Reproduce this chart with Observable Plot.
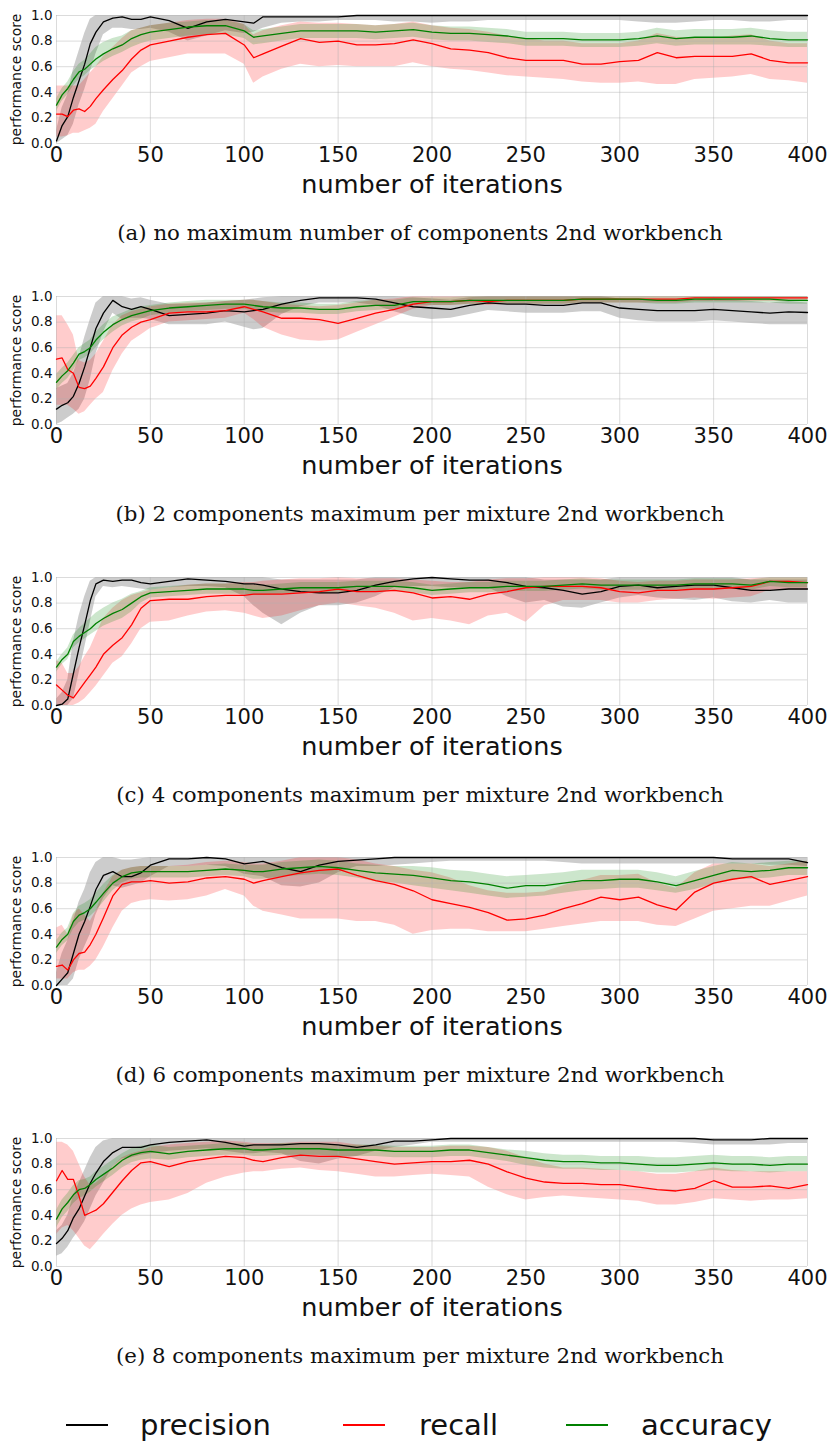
<!DOCTYPE html>
<html><head><meta charset="utf-8">
<script src="https://cdn.jsdelivr.net/npm/d3@7"></script>
<script src="https://cdn.jsdelivr.net/npm/@observablehq/plot@0.6"></script>
<style>
html,body{margin:0;padding:0;background:#fff}
body{width:832px;height:1445px;position:relative;overflow:hidden;font-family:"DejaVu Sans",sans-serif;color:#111}
.panel{position:absolute;left:0;width:832px;height:281px}
.panel svg{position:absolute;left:0;top:0}
.caption{position:absolute;left:4px;width:832px;top:219px;text-align:center;font-family:"DejaVu Serif",serif;font-size:21.3px;line-height:28px;white-space:nowrap}
.lg-line{position:absolute;height:2px;top:1424px}
.lg-text{position:absolute;top:1405px;font-size:29px;line-height:40px;font-family:"DejaVu Sans",sans-serif}
</style></head>
<body>
<div id="root"></div>
<script>
// iteration grid (x values)
const X = [0,3,6,9,12,15,18,21,25,30, 35,40,45,50,60,70,80,90,100,105, 110,120,130,140,150,160,170,180,190,200, 210,220,230,240,250,260,270,280,290,300, 310,320,330,340,350,360,370,380,390,400];
const xTicks = [0,50,100,150,200,250,300,350,400];
const yTicks = [0,0.2,0.4,0.6,0.8,1.0];
const captions = [
  "(a) no maximum number of components 2nd workbench",
  "(b) 2 components maximum per mixture 2nd workbench",
  "(c) 4 components maximum per mixture 2nd workbench",
  "(d) 6 components maximum per mixture 2nd workbench",
  "(e) 8 components maximum per mixture 2nd workbench"
];
const seriesNames = ["precision","recall","accuracy"];

// ---- panel (a)
const precA   = [0.02,0.14,0.21,0.36,0.49,0.62,0.78,0.87,0.95,0.98, 0.99,0.97,0.97,0.99,0.96,0.90,0.95,0.97,0.95,0.94, 0.99,0.99,0.99,0.99,0.99,1,1,1,1,1, 1,1,1,1,1,1,1,1,1,1, 1,1,1,1,1,1,1,1,1,1];
const precALo = [0,0.03,0.06,0.15,0.30,0.42,0.56,0.70,0.85,0.90, 0.90,0.89,0.89,0.90,0.87,0.80,0.84,0.88,0.86,0.87, 0.90,0.94,0.95,0.95,0.96,0.96,0.96,0.95,0.95,0.94, 0.95,0.95,0.96,0.96,0.96,0.96,0.96,0.96,0.96,0.96, 0.95,0.94,0.94,0.95,0.96,0.96,0.95,0.95,0.96,0.96];
const precAHi = [0.10,0.28,0.38,0.58,0.72,0.86,0.97,1,1,1, 1,1,1,1,1,1,1,1,1,1, 1,1,1,1,1,1,1,1,1,1, 1,1,1,1,1,1,1,1,1,1, 1,1,1,1,1,1,1,1,1,1];
const recA    = [0.23,0.23,0.21,0.26,0.27,0.25,0.29,0.35,0.42,0.50, 0.57,0.66,0.73,0.77,0.80,0.83,0.85,0.86,0.77,0.67, 0.70,0.76,0.82,0.79,0.80,0.77,0.77,0.78,0.81,0.78, 0.74,0.73,0.71,0.67,0.65,0.65,0.65,0.62,0.62,0.64, 0.65,0.71,0.67,0.68,0.68,0.68,0.70,0.65,0.63,0.63];
const recALo  = [0.05,0.05,0.06,0.08,0.08,0.10,0.12,0.15,0.25,0.35, 0.45,0.55,0.60,0.64,0.67,0.70,0.70,0.70,0.62,0.47, 0.52,0.58,0.62,0.60,0.61,0.60,0.60,0.60,0.63,0.60, 0.58,0.57,0.55,0.53,0.52,0.51,0.50,0.48,0.47,0.47, 0.48,0.46,0.46,0.50,0.51,0.52,0.54,0.50,0.49,0.47];
const recAHi  = [0.45,0.45,0.45,0.45,0.45,0.50,0.55,0.60,0.68,0.75, 0.82,0.88,0.90,0.92,0.94,0.96,0.97,0.97,0.93,0.85, 0.88,0.92,0.95,0.94,0.94,0.93,0.92,0.93,0.95,0.92, 0.90,0.89,0.87,0.84,0.82,0.80,0.80,0.78,0.78,0.78, 0.80,0.86,0.83,0.82,0.82,0.84,0.85,0.80,0.78,0.78];
const accA    = [0.30,0.38,0.43,0.50,0.56,0.58,0.62,0.66,0.70,0.74, 0.77,0.82,0.85,0.87,0.89,0.91,0.92,0.92,0.88,0.83, 0.84,0.86,0.88,0.88,0.88,0.88,0.87,0.88,0.89,0.87, 0.86,0.86,0.85,0.84,0.82,0.82,0.82,0.81,0.81,0.81, 0.82,0.84,0.82,0.83,0.83,0.83,0.84,0.82,0.81,0.81];
const accALo  = [0.25,0.33,0.38,0.45,0.50,0.53,0.57,0.60,0.64,0.68, 0.71,0.75,0.78,0.80,0.82,0.84,0.85,0.85,0.82,0.77, 0.78,0.80,0.82,0.82,0.82,0.82,0.81,0.82,0.83,0.81, 0.80,0.80,0.79,0.78,0.76,0.76,0.76,0.75,0.75,0.75, 0.76,0.78,0.76,0.77,0.77,0.77,0.77,0.76,0.75,0.75];
const accAHi  = [0.35,0.43,0.48,0.56,0.62,0.65,0.70,0.75,0.79,0.82, 0.84,0.88,0.90,0.92,0.94,0.95,0.96,0.96,0.93,0.88, 0.89,0.91,0.93,0.93,0.93,0.93,0.92,0.93,0.94,0.92, 0.91,0.91,0.90,0.89,0.87,0.87,0.87,0.86,0.86,0.86, 0.87,0.90,0.88,0.89,0.89,0.89,0.90,0.88,0.87,0.87];

// ---- panel (b)
const precB   = [0.12,0.15,0.17,0.22,0.32,0.45,0.60,0.75,0.87,0.97, 0.92,0.90,0.92,0.90,0.85,0.86,0.87,0.89,0.88,0.89, 0.90,0.94,0.97,0.99,0.99,0.99,0.98,0.95,0.92,0.91, 0.90,0.93,0.95,0.94,0.94,0.93,0.93,0.95,0.95,0.91, 0.90,0.89,0.89,0.89,0.90,0.89,0.88,0.87,0.88,0.875];
const precBLo = [0,0.02,0.05,0.08,0.12,0.20,0.35,0.55,0.72,0.87, 0.82,0.83,0.83,0.82,0.78,0.78,0.78,0.80,0.76,0.74, 0.75,0.86,0.92,0.95,0.95,0.95,0.93,0.88,0.84,0.82, 0.83,0.86,0.89,0.88,0.87,0.87,0.87,0.88,0.88,0.83, 0.81,0.80,0.80,0.80,0.81,0.80,0.79,0.78,0.78,0.78];
const precBHi = [0.28,0.30,0.32,0.40,0.52,0.68,0.82,0.95,1,1, 1,0.98,0.99,0.97,0.94,0.94,0.95,0.96,0.97,0.98, 0.99,1,1,1,1,1,1,1,0.99,0.98, 0.97,0.99,1,1,1,1,1,1,1,0.98, 0.97,0.97,0.97,0.97,0.98,0.97,0.96,0.95,0.96,0.95];
const recB    = [0.51,0.52,0.43,0.40,0.29,0.28,0.30,0.36,0.45,0.60, 0.70,0.76,0.80,0.82,0.87,0.88,0.88,0.89,0.92,0.90, 0.88,0.83,0.83,0.82,0.79,0.83,0.87,0.90,0.94,0.96, 0.96,0.97,0.96,0.97,0.97,0.97,0.97,0.98,0.98,0.98, 0.98,0.98,0.98,0.99,0.99,0.99,0.99,0.99,0.99,0.99];
const recBLo  = [0.15,0.15,0.15,0.12,0.08,0.10,0.15,0.20,0.25,0.42, 0.55,0.65,0.70,0.75,0.80,0.81,0.82,0.83,0.87,0.82, 0.76,0.70,0.66,0.65,0.66,0.72,0.78,0.84,0.90,0.93, 0.93,0.94,0.93,0.94,0.94,0.94,0.94,0.95,0.95,0.95, 0.95,0.95,0.95,0.96,0.96,0.96,0.96,0.96,0.96,0.96];
const recBHi  = [0.85,0.85,0.78,0.70,0.50,0.48,0.50,0.55,0.65,0.78, 0.85,0.88,0.90,0.92,0.94,0.95,0.95,0.96,0.97,0.97, 0.96,0.94,0.93,0.92,0.93,0.95,0.97,0.98,1,1, 1,1,1,1,1,1,1,1,1,1, 1,1,1,1,1,1,1,1,1,1];
const accB    = [0.33,0.38,0.42,0.48,0.55,0.57,0.60,0.66,0.72,0.78, 0.82,0.85,0.87,0.89,0.91,0.92,0.93,0.94,0.94,0.93, 0.92,0.91,0.91,0.90,0.90,0.92,0.93,0.93,0.96,0.96, 0.96,0.97,0.97,0.97,0.97,0.97,0.97,0.98,0.98,0.98, 0.98,0.97,0.97,0.98,0.98,0.98,0.98,0.98,0.97,0.97];
const accBLo  = [0.27,0.32,0.36,0.42,0.50,0.52,0.55,0.60,0.66,0.72, 0.77,0.80,0.82,0.85,0.87,0.88,0.89,0.90,0.90,0.89, 0.88,0.87,0.87,0.86,0.86,0.88,0.89,0.90,0.93,0.93, 0.93,0.94,0.94,0.94,0.94,0.94,0.94,0.95,0.95,0.95, 0.95,0.94,0.94,0.95,0.95,0.95,0.95,0.95,0.94,0.94];
const accBHi  = [0.39,0.44,0.48,0.54,0.60,0.63,0.66,0.72,0.78,0.84, 0.87,0.90,0.92,0.93,0.95,0.96,0.97,0.97,0.97,0.97, 0.96,0.95,0.95,0.94,0.94,0.96,0.97,0.97,0.99,0.99, 0.99,1,1,1,1,1,1,1,1,1, 1,1,1,1,1,1,1,1,1,1];

// ---- panel (c)
const precC   = [0,0.01,0.05,0.25,0.45,0.63,0.82,0.95,0.98,0.97, 0.98,0.98,0.96,0.95,0.97,0.99,0.98,0.97,0.95,0.95, 0.94,0.91,0.89,0.88,0.88,0.90,0.94,0.97,0.99,1, 0.99,0.98,0.98,0.96,0.93,0.92,0.90,0.87,0.89,0.93, 0.94,0.92,0.93,0.94,0.94,0.92,0.90,0.90,0.91,0.91];
const precCLo = [0,0,0,0.05,0.25,0.45,0.65,0.85,0.93,0.92, 0.93,0.92,0.91,0.90,0.92,0.93,0.93,0.92,0.85,0.78, 0.72,0.63,0.72,0.78,0.78,0.80,0.85,0.92,0.93,0.93, 0.92,0.92,0.92,0.85,0.80,0.82,0.77,0.76,0.80,0.84, 0.86,0.84,0.83,0.82,0.84,0.81,0.80,0.82,0.80,0.80];
const precCHi = [0.05,0.10,0.20,0.50,0.70,0.85,0.97,1,1,1, 1,1,1,1,1,1,1,1,1,1, 1,0.98,0.98,0.98,0.98,0.98,1,1,1,1, 1,1,1,1,1,0.98,0.98,0.98,0.98,1, 1,1,1,1,1,1,0.98,0.98,0.98,0.98];
const recC    = [0.16,0.12,0.08,0.06,0.12,0.18,0.24,0.30,0.40,0.47, 0.53,0.63,0.76,0.82,0.83,0.83,0.85,0.86,0.86,0.87, 0.87,0.87,0.88,0.89,0.91,0.89,0.89,0.90,0.88,0.84, 0.85,0.83,0.87,0.89,0.92,0.93,0.93,0.93,0.92,0.89, 0.88,0.90,0.90,0.91,0.91,0.92,0.93,0.97,0.97,0.96];
const recCLo  = [0,0,0,0,0.02,0.05,0.10,0.15,0.23,0.33, 0.38,0.48,0.60,0.65,0.66,0.70,0.73,0.74,0.72,0.70, 0.68,0.70,0.74,0.78,0.80,0.78,0.76,0.72,0.66,0.68, 0.66,0.63,0.70,0.72,0.65,0.78,0.82,0.82,0.82,0.80, 0.80,0.82,0.83,0.84,0.83,0.84,0.85,0.90,0.90,0.90];
const recCHi  = [0.35,0.33,0.25,0.25,0.30,0.38,0.45,0.55,0.68,0.76, 0.82,0.86,0.88,0.90,0.92,0.94,0.95,0.95,0.96,0.96, 0.97,0.98,0.99,0.99,1,0.99,0.99,0.99,0.98,0.97, 0.96,0.96,0.98,0.99,0.99,1,1,1,0.99,0.97, 0.96,0.97,0.97,0.98,0.98,0.98,0.99,1,1,1];
const accC    = [0.30,0.36,0.40,0.50,0.54,0.57,0.60,0.64,0.68,0.72, 0.75,0.80,0.85,0.88,0.89,0.90,0.91,0.91,0.91,0.90, 0.90,0.91,0.92,0.92,0.92,0.93,0.93,0.93,0.92,0.90, 0.91,0.92,0.92,0.93,0.93,0.93,0.94,0.95,0.94,0.94, 0.94,0.94,0.94,0.95,0.95,0.95,0.94,0.97,0.96,0.96];
const accCLo  = [0.26,0.32,0.36,0.45,0.49,0.52,0.55,0.58,0.62,0.65, 0.68,0.73,0.80,0.84,0.85,0.86,0.87,0.87,0.87,0.86, 0.86,0.87,0.88,0.88,0.88,0.89,0.89,0.89,0.88,0.86, 0.87,0.88,0.88,0.89,0.89,0.89,0.90,0.91,0.90,0.90, 0.90,0.90,0.90,0.91,0.91,0.91,0.90,0.93,0.92,0.92];
const accCHi  = [0.34,0.40,0.45,0.55,0.60,0.64,0.68,0.72,0.76,0.80, 0.83,0.87,0.89,0.92,0.93,0.94,0.95,0.95,0.95,0.94, 0.94,0.95,0.96,0.96,0.96,0.97,0.97,0.97,0.96,0.94, 0.95,0.96,0.96,0.97,0.97,0.97,0.98,0.99,0.98,0.98, 0.98,0.98,0.98,0.99,0.99,0.99,0.98,1,1,1];

// ---- panel (d)
const precD   = [0,0.05,0.10,0.25,0.40,0.50,0.62,0.75,0.86,0.89, 0.85,0.85,0.88,0.94,0.99,0.99,1,0.99,0.95,0.96, 0.97,0.92,0.89,0.94,0.97,0.98,0.99,1,1,1, 1,1,1,1,1,1,1,1,1,1, 1,1,1,1,1,0.99,0.99,0.99,0.99,0.96];
const precDLo = [0,0,0,0.05,0.20,0.30,0.40,0.55,0.68,0.78, 0.76,0.78,0.80,0.85,0.93,0.93,0.94,0.93,0.87,0.86, 0.85,0.78,0.77,0.80,0.88,0.93,0.93,0.94,0.95,0.96, 0.97,0.97,0.97,0.97,0.97,0.97,0.96,0.95,0.95,0.95, 0.95,0.95,0.95,0.95,0.95,0.95,0.95,0.94,0.94,0.93];
const precDHi = [0.10,0.25,0.35,0.50,0.65,0.75,0.88,0.96,1,1, 0.98,0.98,0.99,1,1,1,1,1,1,1, 1,1,1,1,1,1,1,1,1,1, 1,1,1,1,1,1,1,1,1,1, 1,1,1,1,1,1,1,1,1,1];
const recD    = [0.15,0.16,0.12,0.20,0.25,0.26,0.32,0.40,0.53,0.70, 0.79,0.81,0.81,0.82,0.80,0.81,0.84,0.85,0.83,0.80, 0.82,0.85,0.88,0.90,0.91,0.86,0.82,0.79,0.74,0.67, 0.64,0.61,0.57,0.51,0.52,0.55,0.60,0.64,0.69,0.67, 0.69,0.63,0.59,0.73,0.80,0.83,0.85,0.79,0.82,0.85];
const recDLo  = [0.05,0.05,0.05,0.10,0.12,0.12,0.15,0.20,0.30,0.45, 0.58,0.64,0.66,0.67,0.66,0.67,0.70,0.75,0.70,0.62, 0.58,0.55,0.52,0.52,0.52,0.50,0.50,0.47,0.40,0.43, 0.44,0.44,0.42,0.42,0.42,0.44,0.46,0.48,0.50,0.50, 0.50,0.47,0.46,0.52,0.58,0.60,0.62,0.62,0.66,0.70];
const recDHi  = [0.45,0.47,0.40,0.55,0.60,0.55,0.50,0.58,0.72,0.85, 0.90,0.92,0.93,0.93,0.93,0.94,0.96,0.97,0.96,0.95, 0.95,0.97,1,1,1,0.98,0.95,0.93,0.90,0.88, 0.84,0.78,0.74,0.72,0.72,0.73,0.78,0.82,0.86,0.86, 0.87,0.80,0.76,0.88,0.95,0.95,0.95,0.93,0.95,0.97];
const accD    = [0.30,0.36,0.40,0.50,0.55,0.57,0.60,0.65,0.72,0.80, 0.85,0.88,0.89,0.89,0.89,0.89,0.90,0.91,0.90,0.89, 0.89,0.91,0.92,0.93,0.92,0.90,0.88,0.87,0.86,0.84, 0.82,0.81,0.79,0.76,0.78,0.78,0.80,0.82,0.82,0.83, 0.83,0.81,0.78,0.82,0.86,0.90,0.89,0.90,0.92,0.92];
const accDLo  = [0.25,0.31,0.35,0.44,0.49,0.51,0.54,0.58,0.65,0.74, 0.80,0.83,0.84,0.84,0.84,0.84,0.85,0.86,0.85,0.83, 0.83,0.85,0.86,0.87,0.86,0.84,0.81,0.80,0.78,0.76, 0.74,0.72,0.70,0.68,0.69,0.70,0.72,0.74,0.75,0.76, 0.76,0.74,0.72,0.75,0.79,0.83,0.83,0.84,0.86,0.86];
const accDHi  = [0.35,0.41,0.45,0.56,0.62,0.64,0.67,0.72,0.79,0.86, 0.90,0.92,0.93,0.93,0.93,0.93,0.94,0.95,0.94,0.94, 0.94,0.96,0.97,0.98,0.97,0.95,0.94,0.93,0.93,0.92, 0.90,0.89,0.87,0.85,0.86,0.87,0.88,0.90,0.90,0.90, 0.90,0.88,0.85,0.89,0.93,0.96,0.95,0.96,0.97,0.97];

// ---- panel (e)
const precE   = [0.18,0.22,0.28,0.38,0.45,0.55,0.65,0.73,0.82,0.89, 0.93,0.93,0.93,0.95,0.97,0.98,0.99,0.97,0.94,0.95, 0.95,0.95,0.96,0.96,0.95,0.93,0.95,0.98,0.98,0.99, 1,1,1,1,1,1,1,1,1,1, 1,1,1,1,0.99,0.99,0.99,1,1,1];
const precELo = [0.08,0.10,0.15,0.22,0.28,0.35,0.45,0.55,0.65,0.78, 0.84,0.85,0.87,0.88,0.90,0.91,0.92,0.90,0.88,0.88, 0.89,0.88,0.82,0.80,0.84,0.86,0.90,0.93,0.95,0.97, 0.97,0.97,0.97,0.97,0.97,0.97,0.97,0.97,0.97,0.97, 0.97,0.97,0.97,0.96,0.95,0.95,0.95,0.95,0.96,0.96];
const precEHi = [0.28,0.32,0.40,0.55,0.65,0.75,0.85,0.93,0.98,1, 1,1,1,1,1,1,1,1,1,1, 1,1,1,1,1,1,1,1,1,1, 1,1,1,1,1,1,1,1,1,1, 1,1,1,1,1,1,1,1,1,1];
const recE    = [0.67,0.75,0.68,0.68,0.55,0.40,0.42,0.44,0.49,0.58, 0.67,0.75,0.81,0.82,0.78,0.82,0.84,0.86,0.85,0.83, 0.82,0.85,0.87,0.86,0.86,0.84,0.82,0.80,0.81,0.82, 0.82,0.83,0.80,0.74,0.69,0.66,0.65,0.65,0.64,0.64, 0.62,0.60,0.59,0.61,0.67,0.62,0.62,0.63,0.61,0.64];
const recELo  = [0.25,0.30,0.32,0.28,0.22,0.16,0.13,0.18,0.25,0.33, 0.40,0.45,0.48,0.50,0.52,0.57,0.65,0.70,0.73,0.74, 0.74,0.76,0.77,0.75,0.74,0.72,0.70,0.70,0.71,0.72, 0.71,0.70,0.62,0.56,0.52,0.54,0.55,0.54,0.53,0.52, 0.51,0.48,0.48,0.50,0.53,0.52,0.51,0.52,0.52,0.53];
const recEHi  = [0.97,0.97,0.95,0.90,0.80,0.70,0.63,0.65,0.70,0.78, 0.85,0.88,0.90,0.93,0.95,0.96,0.97,0.98,0.97,0.96, 0.96,0.96,0.97,0.97,0.97,0.95,0.94,0.93,0.93,0.93, 0.94,0.94,0.93,0.90,0.85,0.80,0.77,0.77,0.76,0.75, 0.74,0.72,0.72,0.74,0.77,0.75,0.74,0.74,0.74,0.74];
const accE    = [0.37,0.45,0.50,0.56,0.60,0.61,0.64,0.68,0.72,0.77, 0.83,0.87,0.89,0.90,0.88,0.90,0.91,0.92,0.92,0.91, 0.91,0.92,0.92,0.92,0.91,0.91,0.91,0.90,0.90,0.90, 0.91,0.91,0.89,0.87,0.85,0.83,0.82,0.82,0.81,0.81, 0.80,0.79,0.79,0.80,0.81,0.80,0.80,0.79,0.80,0.80];
const accELo  = [0.30,0.38,0.43,0.49,0.53,0.55,0.58,0.62,0.66,0.71, 0.77,0.81,0.83,0.84,0.83,0.85,0.86,0.87,0.87,0.86, 0.86,0.87,0.87,0.87,0.86,0.86,0.86,0.85,0.85,0.85, 0.86,0.86,0.84,0.82,0.79,0.77,0.76,0.76,0.75,0.75, 0.74,0.73,0.73,0.74,0.75,0.74,0.74,0.73,0.74,0.74];
const accEHi  = [0.44,0.52,0.57,0.63,0.67,0.68,0.70,0.74,0.78,0.83, 0.88,0.92,0.94,0.95,0.93,0.94,0.95,0.96,0.96,0.95, 0.95,0.96,0.96,0.96,0.95,0.95,0.95,0.94,0.94,0.94, 0.95,0.95,0.93,0.91,0.90,0.88,0.87,0.87,0.86,0.86, 0.86,0.85,0.85,0.86,0.87,0.86,0.86,0.85,0.86,0.86];

const panels = [
  {p:precA,pLo:precALo,pHi:precAHi,r:recA,rLo:recALo,rHi:recAHi,a:accA,aLo:accALo,aHi:accAHi},
  {p:precB,pLo:precBLo,pHi:precBHi,r:recB,rLo:recBLo,rHi:recBHi,a:accB,aLo:accBLo,aHi:accBHi},
  {p:precC,pLo:precCLo,pHi:precCHi,r:recC,rLo:recCLo,rHi:recCHi,a:accC,aLo:accCLo,aHi:accCHi},
  {p:precD,pLo:precDLo,pHi:precDHi,r:recD,rLo:recDLo,rHi:recDHi,a:accD,aLo:accDLo,aHi:accDHi},
  {p:precE,pLo:precELo,pHi:precEHi,r:recE,rLo:recELo,rHi:recEHi,a:accE,aLo:accELo,aHi:accEHi}
];
const panelTops = [0,281,562,842,1123];

const root = document.getElementById("root");
panels.forEach((d, k) => {
  const rows = X.map((it, i) => ({it,
    p: d.p[i], pLo: d.pLo[i], pHi: d.pHi[i],
    r: d.r[i], rLo: d.rLo[i], rHi: d.rHi[i],
    a: d.a[i], aLo: d.aLo[i], aHi: d.aHi[i]}));
  const svg = Plot.plot({
    width: 832, height: 205,
    marginTop: 15, marginBottom: 62, marginLeft: 56, marginRight: 25,
    style: {fontFamily: "DejaVu Sans", background: "white", color: "#111", overflow: "visible"},
    x: {domain: [0, 400]},
    y: {domain: [0, 1]},
    marks: [
      Plot.areaY(rows, {x: "it", y1: "pLo", y2: "pHi", fill: "black", fillOpacity: 0.2}),
      Plot.areaY(rows, {x: "it", y1: "rLo", y2: "rHi", fill: "red", fillOpacity: 0.2}),
      Plot.areaY(rows, {x: "it", y1: "aLo", y2: "aHi", fill: "green", fillOpacity: 0.2}),
      Plot.gridX(xTicks, {stroke: "#b0b0b0", strokeOpacity: 0.45, strokeWidth: 1}),
      Plot.gridY(yTicks, {stroke: "#b0b0b0", strokeOpacity: 0.45, strokeWidth: 1}),
      Plot.axisX(xTicks, {tickSize: 0, tickPadding: 4, fontSize: 21, tickFormat: d => String(d),
        label: "number of iterations", labelAnchor: "center", labelArrow: "none", labelOffset: 49}),
      Plot.axisY(yTicks, {tickSize: 0, tickPadding: 4, fontSize: 13.5, tickFormat: d3.format(".1f"),
        label: "performance score", labelAnchor: "center", labelArrow: "none", labelOffset: 45}),
      Plot.lineY(rows, {x: "it", y: "p", stroke: "black", strokeWidth: 1.3}),
      Plot.lineY(rows, {x: "it", y: "r", stroke: "#ff0000", strokeWidth: 1.3}),
      Plot.lineY(rows, {x: "it", y: "a", stroke: "#008000", strokeWidth: 1.3})
    ]
  });
  // axis label font sizes
  const xl = svg.querySelector('[aria-label="x-axis label"]');
  if (xl) xl.setAttribute("font-size", 25.5);
  const yl = svg.querySelector('[aria-label="y-axis label"]');
  if (yl) yl.setAttribute("font-size", 14);
  const div = document.createElement("div");
  div.className = "panel";
  div.style.top = panelTops[k] + "px";
  div.appendChild(svg);
  const cap = document.createElement("div");
  cap.className = "caption";
  cap.textContent = captions[k];
  div.appendChild(cap);
  root.appendChild(div);
});

// legend
const legendColors = ["#000000", "#ff0000", "#008000"];
const legendLineX = [66, 343, 566];
const legendTextX = [140, 419, 641];
seriesNames.forEach((name, i) => {
  const ln = document.createElement("div");
  ln.className = "lg-line";
  ln.style.left = legendLineX[i] + "px";
  ln.style.width = "42px";
  ln.style.background = legendColors[i];
  root.appendChild(ln);
  const t = document.createElement("div");
  t.className = "lg-text";
  t.style.left = legendTextX[i] + "px";
  t.textContent = name;
  root.appendChild(t);
});
</script>
</body></html>
